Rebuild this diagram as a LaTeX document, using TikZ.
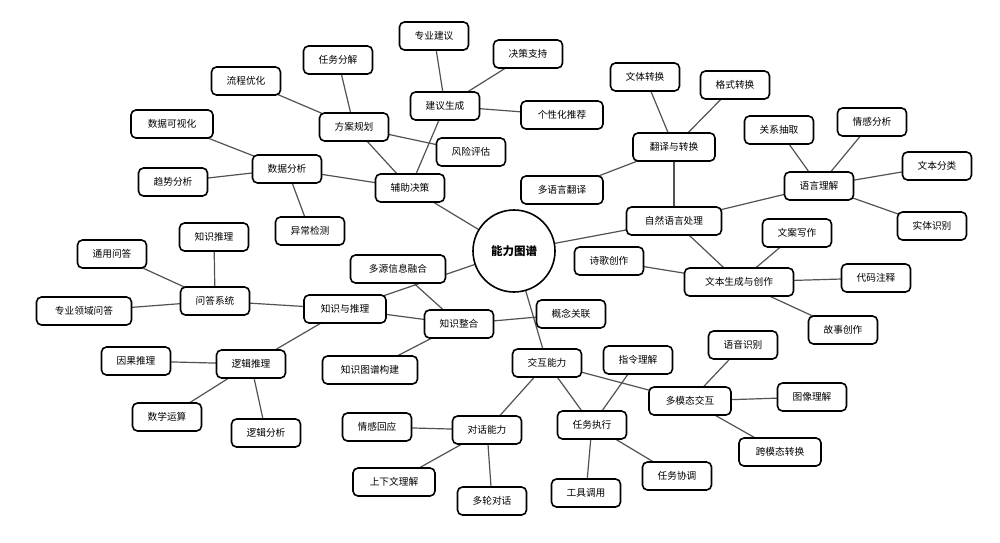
\documentclass[tikz,border=0pt]{standalone}
\usepackage{fontspec}
\newfontfamily\cjk{Noto Sans CJK SC}
\usetikzlibrary{backgrounds}
\begin{document}
\begin{tikzpicture}[x=1pt,y=-1pt,
  box/.style={draw=black, line width=1.6pt, fill=white, rounded corners=5pt,
    minimum height=28pt, inner xsep=2pt, inner ysep=0pt, font=\cjk\fontsize{9.7}{11}\selectfont},
  wa/.style={box, minimum width=69pt},
  wb/.style={box, minimum width=82pt},
  wc/.style={box, minimum width=95pt},
  wd/.style={box, minimum width=109pt},
  rootnode/.style={draw=black, line width=1.6pt, fill=white, circle, minimum size=82pt, inner sep=0pt,
    font=\cjk\bfseries\fontsize{11.5}{13}\selectfont},
  edge/.style={draw=black!68, line width=1.2pt}]
\useasboundingbox (0,0) rectangle (1000,542);
% nodes
\node[rootnode] (root) at (514,251) {能力图谱};
\node[wa] (fzjc) at (410,188) {辅助决策};
\node[wa] (sjfx) at (287,169) {数据分析};
\node[wb] (ksh) at (172,124) {数据可视化};
\node[wa] (qsfx) at (173,182) {趋势分析};
\node[wa] (ycjc) at (310,231) {异常检测};
\node[wa] (fagh) at (354,127) {方案规划};
\node[wa] (lcyh) at (246,81) {流程优化};
\node[wa] (rwfj) at (338,60) {任务分解};
\node[wa] (fxpg) at (471,152) {风险评估};
\node[wa] (jysc) at (445,106) {建议生成};
\node[wa] (zyjy) at (434,36) {专业建议};
\node[wa] (jczc) at (528,54) {决策支持};
\node[wb] (gxh) at (562,115) {个性化推荐};
\node[wc] (nlp) at (674,221) {自然语言处理};
\node[wb] (fyzh) at (674,147) {翻译与转换};
\node[wa] (wtzh) at (645,77) {文体转换};
\node[wa] (gszh) at (735,85) {格式转换};
\node[wb] (dyyfy) at (562,190) {多语言翻译};
\node[wa] (yylj) at (819,186) {语言理解};
\node[wa] (gxcq) at (779,130) {关系抽取};
\node[wa] (qgfx) at (872,122) {情感分析};
\node[wa] (wbfl) at (937,166) {文本分类};
\node[wa] (stsb) at (932,226) {实体识别};
\node[wd] (wbsc) at (739,282) {文本生成与创作};
\node[wa] (sgcz) at (609,261) {诗歌创作};
\node[wa] (wasz) at (797,233) {文案写作};
\node[wa] (dmzs) at (876,278) {代码注释};
\node[wa] (gscz) at (843,330) {故事创作};
\node[wb] (zsyl) at (345,309) {知识与推理};
\node[wa] (wdxt) at (215,301) {问答系统};
\node[wa] (tywd) at (112,254) {通用问答};
\node[wc] (zywd) at (84,311) {专业领域问答};
\node[wa] (zstl) at (214,237) {知识推理};
\node[wa] (ljtl) at (251,364) {逻辑推理};
\node[wa] (ygtl) at (136,361) {因果推理};
\node[wa] (sxys) at (167,417) {数学运算};
\node[wa] (ljfx) at (266,433) {逻辑分析};
\node[wa] (zszh) at (459,324) {知识整合};
\node[wc] (dyxx) at (398,269) {多源信息融合};
\node[wa] (gngl) at (571,314) {概念关联};
\node[wc] (tpgj) at (370,370) {知识图谱构建};
\node[wa] (jhnl) at (547,363) {交互能力};
\node[wa] (dhnl) at (487,430) {对话能力};
\node[wa] (qghy) at (377,427) {情感回应};
\node[wb] (sxw) at (394,482) {上下文理解};
\node[wa] (dldh) at (492,501) {多轮对话};
\node[wa] (rwzx) at (592,425) {任务执行};
\node[wa] (zllj) at (638,360) {指令理解};
\node[wa] (gjdy) at (586,493) {工具调用};
\node[wa] (rwxt) at (677,476) {任务协调};
\node[wb] (dmt) at (690,401) {多模态交互};
\node[wa] (yysb) at (743,345) {语音识别};
\node[wa] (txlj) at (812,397) {图像理解};
\node[wb] (kmt) at (780,452) {跨模态转换};
% edges
\begin{scope}[on background layer]
\fill[white] (0,0) rectangle (1000,542);
\draw[edge] (root.center) -- (fzjc.center);
\draw[edge] (root.center) -- (nlp.center);
\draw[edge] (root.center) -- (zsyl.center);
\draw[edge] (root.center) -- (jhnl.center);
\draw[edge] (fzjc.center) -- (sjfx.center);
\draw[edge] (fzjc.center) -- (fagh.center);
\draw[edge] (fzjc.center) -- (jysc.center);
\draw[edge] (sjfx.center) -- (ksh.center);
\draw[edge] (sjfx.center) -- (qsfx.center);
\draw[edge] (sjfx.center) -- (ycjc.center);
\draw[edge] (fagh.center) -- (lcyh.center);
\draw[edge] (fagh.center) -- (rwfj.center);
\draw[edge] (fagh.center) -- (fxpg.center);
\draw[edge] (jysc.center) -- (zyjy.center);
\draw[edge] (jysc.center) -- (jczc.center);
\draw[edge] (jysc.center) -- (gxh.center);
\draw[edge] (nlp.center) -- (fyzh.center);
\draw[edge] (nlp.center) -- (yylj.center);
\draw[edge] (nlp.center) -- (wbsc.center);
\draw[edge] (fyzh.center) -- (wtzh.center);
\draw[edge] (fyzh.center) -- (gszh.center);
\draw[edge] (fyzh.center) -- (dyyfy.center);
\draw[edge] (yylj.center) -- (gxcq.center);
\draw[edge] (yylj.center) -- (qgfx.center);
\draw[edge] (yylj.center) -- (wbfl.center);
\draw[edge] (yylj.center) -- (stsb.center);
\draw[edge] (wbsc.center) -- (sgcz.center);
\draw[edge] (wbsc.center) -- (wasz.center);
\draw[edge] (wbsc.center) -- (dmzs.center);
\draw[edge] (wbsc.center) -- (gscz.center);
\draw[edge] (zsyl.center) -- (wdxt.center);
\draw[edge] (zsyl.center) -- (ljtl.center);
\draw[edge] (zsyl.center) -- (zszh.center);
\draw[edge] (wdxt.center) -- (tywd.center);
\draw[edge] (wdxt.center) -- (zywd.center);
\draw[edge] (wdxt.center) -- (zstl.center);
\draw[edge] (ljtl.center) -- (ygtl.center);
\draw[edge] (ljtl.center) -- (sxys.center);
\draw[edge] (ljtl.center) -- (ljfx.center);
\draw[edge] (zszh.center) -- (dyxx.center);
\draw[edge] (zszh.center) -- (gngl.center);
\draw[edge] (zszh.center) -- (tpgj.center);
\draw[edge] (jhnl.center) -- (dhnl.center);
\draw[edge] (jhnl.center) -- (rwzx.center);
\draw[edge] (jhnl.center) -- (dmt.center);
\draw[edge] (dhnl.center) -- (qghy.center);
\draw[edge] (dhnl.center) -- (sxw.center);
\draw[edge] (dhnl.center) -- (dldh.center);
\draw[edge] (rwzx.center) -- (zllj.center);
\draw[edge] (rwzx.center) -- (gjdy.center);
\draw[edge] (rwzx.center) -- (rwxt.center);
\draw[edge] (dmt.center) -- (yysb.center);
\draw[edge] (dmt.center) -- (txlj.center);
\draw[edge] (dmt.center) -- (kmt.center);
\end{scope}
\end{tikzpicture}
\end{document}
